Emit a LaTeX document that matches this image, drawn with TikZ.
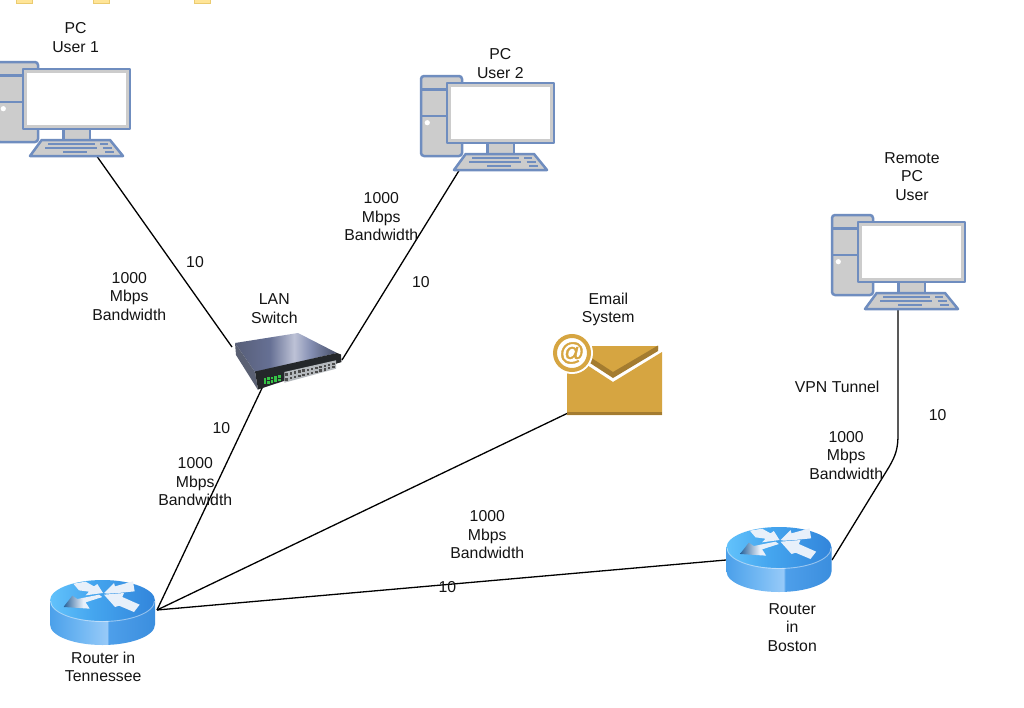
\documentclass[tikz,border=0pt]{standalone}
\usepackage{fontspec}
\setmainfont{Liberation Sans}
\newfontfamily\atfont[FakeBold=1.6]{Liberation Sans}
\usetikzlibrary{calc}
\definecolor{pcblue}{HTML}{6F8DBF}
\definecolor{pcgrey}{HTML}{CCCCCC}
\definecolor{gold}{HTML}{D6A541}
\definecolor{golddark}{HTML}{A47C30}
\definecolor{tabfill}{HTML}{FFE598}
\definecolor{tabline}{HTML}{EBCB70}
\definecolor{swdark}{HTML}{24272A}
\definecolor{swside}{HTML}{5A6073}
\definecolor{swport}{HTML}{B4B8BC}
\definecolor{ledgreen}{HTML}{35C245}
\definecolor{arrowwhite}{HTML}{E8F0FA}
\definecolor{rsa}{HTML}{4BA0EA}
\definecolor{rsb}{HTML}{72B8F3}
\definecolor{rsc}{HTML}{98CAF8}
\definecolor{rsd}{HTML}{4E9FEA}
\definecolor{rse}{HTML}{3B8EDE}
\definecolor{rta}{HTML}{62C2FB}
\definecolor{rtb}{HTML}{45A6EF}
\definecolor{rtc}{HTML}{3285DB}
\definecolor{sta}{HTML}{575E78}
\definecolor{stb}{HTML}{667094}
\definecolor{stc}{HTML}{BDC2D6}
\definecolor{std}{HTML}{858FB3}
\definecolor{ste}{HTML}{454D66}
\pgfdeclarehorizontalshading{routerside}{100bp}{
  color(0bp)=(rsa);
  color(25bp)=(rsa);
  color(40bp)=(rsb);
  color(52.5bp)=(rsc);
  color(52.7bp)=(rsd);
  color(75bp)=(rse);
  color(100bp)=(rse)}
\pgfdeclarehorizontalshading{routertop}{100bp}{
  color(0bp)=(rta);
  color(25bp)=(rta);
  color(45bp)=(rtb);
  color(75bp)=(rtc);
  color(100bp)=(rtc)}
\pgfdeclarehorizontalshading{switchtop}{100bp}{
  color(0bp)=(sta);
  color(25bp)=(sta);
  color(42bp)=(stb);
  color(54bp)=(stc);
  color(62bp)=(std);
  color(75bp)=(ste);
  color(100bp)=(ste)}
\tikzset{
  x=1pt,y=-1pt,
  label text/.style={inner sep=0pt,align=center,text=black!92,font=\fontsize{15.8}{18.6}\selectfont},
  link/.style={draw=black,line width=1.3pt,line join=round},
  pcline/.style={draw=pcblue,line width=2.5pt,line join=round},
  keybar/.style={draw=pcblue,line width=2.1pt},
  flake/.style={fill=arrowwhite,draw=none},
  pcicon/.pic={
    \draw[pcline,fill=pcgrey,rounded corners=3pt] (-26,-7) rectangle (15,73);
    \draw[pcline] (-26,6.5) -- (0,6.5) (-26,33) -- (0,33);
    \fill[white] (-19.7,39.7) circle (2.6);
    \draw[pcline,fill=pcgrey] (40.3,60) rectangle (67,71);
    \draw[pcline,fill=pcgrey] (18.7,71) -- (87,71) -- (100,87) -- (7,87) -- cycle;
    \draw[keybar] (25.3,74.7) -- (72,74.7) (77,74.7) -- (85.3,74.7)
      (22,79) -- (73.7,79) (79.7,79) -- (88.7,79)
      (40,83) -- (63.7,83) (82,83) -- (91,83);
    \draw[pcline,fill=pcgrey] (0,0) rectangle (107,60);
    \fill[white] (4,4) rectangle (103,56);
  },
  routericon/.pic={
    \shade[shading=routerside] (0,20.5) -- (0,44.5) arc[x radius=52.5,y radius=20.5,start angle=180,end angle=0] -- (105,20.5) -- cycle;
    \shade[shading=routertop] (52.5,20.5) ellipse[x radius=52.5,y radius=20.5];
    \draw[white,opacity=.45,line width=.9pt] (0.5,21) arc[x radius=52,y radius=20.5,start angle=180,end angle=0];
    \begin{scope}[xshift=-6pt,yshift=7pt,x=.3333pt,y=-.3333pt]
      \fill[flake] (88,32) -- (125,26) -- (150,40) -- (160,33) -- (177,60) -- (125,67) -- (135,56) -- (105,52) -- cycle;
      \shade[left color=rse!70!black,right color=arrowwhite,middle color=arrowwhite] (60,100) -- (85,68) -- (100,78) -- (165,65) -- (175,72) -- (125,88) -- (137,107) -- (60,102) -- cycle;
      \fill[flake] (180,60) -- (210,30) -- (213,40) -- (267,25) -- (272,55) -- (222,60) -- (190,62) -- cycle;
      \fill[flake] (180,65) -- (240,60) -- (235,72) -- (287,95) -- (270,117) -- (225,98) -- (213,102) -- cycle;
    \end{scope}
  }
}
\begin{document}
\begin{tikzpicture}
\useasboundingbox[fill=white] (0,0) rectangle (1024,707);

% cut-off items at the top edge
\foreach \tabx in {16,93,194}
  \draw[fill=tabfill,draw=tabline,line width=.8pt] (\tabx,-3) rectangle ++(16,6);

% connector ends
\coordinate (pc1port) at (96,155);
\coordinate (pc2port) at (460,169);
\coordinate (remoteport) at (898,309);
\coordinate (swnw) at (232,347);
\coordinate (swne) at (342,360);
\coordinate (sws) at (263,386);
\coordinate (mailport) at (568,413);
\coordinate (tnport) at (157,610);
\coordinate (bosw) at (726,560);
\coordinate (bose) at (832,560);

% connectors
\draw[link] (pc1port) -- (swnw);
\draw[link] (pc2port) -- (swne);
\draw[link] (sws) -- (tnport);
\draw[link] (mailport) -- (tnport);
\draw[link] (tnport) -- (bosw);
\draw[link] (bose) -- (889,467) .. controls (896,455) and (898,448) .. (898,434) -- (remoteport);

% computers
\pic at (23,69) {pcicon};
\pic at (447,83) {pcicon};
\pic at (858,222) {pcicon};

% routers
\pic at (50,580) {routericon};
\pic at (726.5,527) {routericon};

% LAN switch
\shade[shading=switchtop] (235,343) -- (298,333) -- (337,353) -- (255,372) -- cycle;
\fill[swside] (235,343) -- (236,355) -- (258,390) -- (255,372) -- cycle;
\fill[swdark] (255,371.5) -- (337,353) -- (341,354.5) -- (341.5,362) -- (258,389.5) -- cycle;
\fill[swport] (284.3,372) -- (336,360.3) -- (336,368.7) -- (284.3,382.7) -- cycle;
\foreach \i in {0,...,11}{
  \fill[black!70] ({285.3+\i*4.25},{373.4-\i*0.98}) rectangle ++(2.6,2.4);
  \fill[black!70] ({285.3+\i*4.25},{378.4-\i*1.12}) rectangle ++(2.6,2.2);
}
\foreach \i in {0,...,4}{
  \fill[ledgreen] ({263.6+\i*3.6},{378-\i*.7}) rectangle ++(2.5,2.8);
  \fill[ledgreen] ({263.6+\i*3.6},{381.4-\i*.7}) rectangle ++(2.5,2.8);
}

% e-mail icon
\fill[gold] (585,346) -- (658,346) -- (658,349) -- (613,375) -- (585,358) -- cycle;
\fill[golddark] (590,357) -- (613,372) -- (658,345.5) -- (658,351) -- (613,378) -- (590,363) -- cycle;
\fill[gold] (567,352) -- (613,382) -- (662,352) -- (662,415) -- (567,415) -- cycle;
\fill[golddark] (567,412) rectangle (662,415);
\fill[white] (572,353) circle (21);
\draw[gold,line width=4pt] (572,353) circle (17);
\node[inner sep=0pt,text=gold,font=\atfont\fontsize{25}{25}\selectfont] (attext) at (572,353) {@};

% labels
\node[label text] (lpc1) at (75.6,37.4) {PC\\User 1};
\node[label text] (lpc2) at (500.3,63.8) {PC\\User 2};
\node[label text] (lremote) at (912,176.6) {Remote\\PC\\User};
\node[label text] (lswitch) at (274.3,308.8) {LAN\\Switch};
\node[label text] (lmail) at (608.3,309.3) {Email\\System};
\node[label text] (lvpn) at (837.2,387.2) {VPN Tunnel};
\node[label text] (ltn) at (103.2,666.8) {Router in\\Tennessee};
\node[label text] (lbos) at (792.2,627.3) {Router\\in\\Boston};
\node[label text] (b1) at (129.3,296.2) {1000\\Mbps\\Bandwidth};
\node[label text] (b2) at (381.3,216.6) {1000\\Mbps\\Bandwidth};
\node[label text] (b3) at (195.3,481.6) {1000\\Mbps\\Bandwidth};
\node[label text] (b4) at (487.3,534.8) {1000\\Mbps\\Bandwidth};
\node[label text] (b5) at (846.2,455.2) {1000\\Mbps\\Bandwidth};
\node[label text] (n1) at (195,262.4) {10};
\node[label text] (n2) at (420.8,282.4) {10};
\node[label text] (n3) at (221.4,428.4) {10};
\node[label text] (n4) at (447.4,587.4) {10};
\node[label text] (n5) at (937.6,415.4) {10};
\end{tikzpicture}
\end{document}
